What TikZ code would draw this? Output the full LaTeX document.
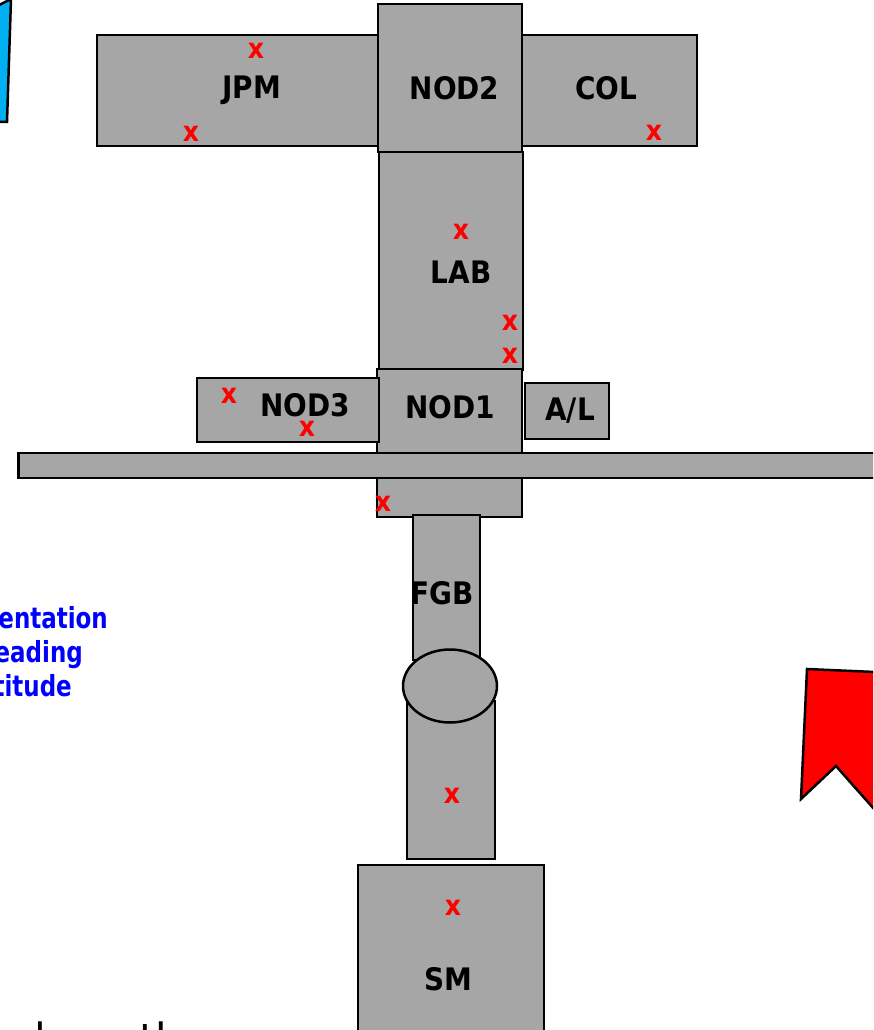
\documentclass[tikz,border=0pt]{standalone}
\usepackage{fontspec}
\setmainfont{DejaVu Sans Condensed}
\usetikzlibrary{shapes.geometric}
\definecolor{modgray}{RGB}{166,166,166}
\definecolor{markred}{RGB}{255,0,0}
\definecolor{noteblue}{RGB}{0,0,255}
\definecolor{arrowcyan}{RGB}{0,176,240}
\newcommand{\narrow}[1]{\scalebox{0.88}[1]{#1}}
\tikzset{
  module/.style={draw=black, line width=2.5pt, fill=modgray, inner sep=0pt, rectangle},
  modlabel/.style={font=\bfseries\fontsize{31}{37}\selectfont, inner sep=0pt},
  xmark/.style={font=\bfseries\fontsize{28}{32}\selectfont, text=markred, inner sep=0pt},
  note/.style={font=\bfseries\fontsize{29}{35}\selectfont, text=noteblue, inner sep=0pt, anchor=base east},
  banner/.style={draw=black, line width=2.5pt, line join=miter},
}
\begin{document}
\begin{tikzpicture}[x=1pt, y=-1pt]
\useasboundingbox (0,0) rectangle (873,1030);
\clip (0,0) rectangle (873,1030);

% side arrows, cut by the frame
\filldraw[banner, fill=arrowcyan] (-40,25) -- (11,-1) -- (7,122) -- (-40,122) -- cycle;
\filldraw[banner, fill=markred] (807,669) -- (920,674) -- (920,861) -- (836,766) -- (801,799) -- cycle;

% modules
\node[module, minimum width=281pt, minimum height=111pt] (jpm) at (237.5,90.5) {};
\node[module, minimum width=175pt, minimum height=111pt] (col) at (609.5,90.5) {};
\node[module, minimum width=144pt, minimum height=218pt] (lab) at (451,261) {};
\node[module, minimum width=144pt, minimum height=148pt] (nod2) at (450,78) {};
\node[module, minimum width=145pt, minimum height=148pt] (nod1) at (449.5,443) {};
\node[module, minimum width=182pt, minimum height=64pt] (nod3) at (288,410) {};
\node[module, minimum width=84pt, minimum height=56pt] (al) at (567,411) {};
\node[module, minimum width=900pt, minimum height=25pt, anchor=west] (truss) at (17,465.5) {};
\node[module, minimum width=67pt, minimum height=145pt] (fgb) at (446.5,587.5) {};
\node[module, minimum width=88pt, minimum height=158pt] (sm-neck) at (451,780) {};
\node[module, ellipse, minimum width=94pt, minimum height=73pt] (ring) at (450,686) {};
\node[module, minimum width=186pt, minimum height=195pt] (sm) at (451,962.5) {};

% module names
\node[modlabel] (t-jpm) at (251.5,90) {JPM};
\node[modlabel] (t-nod2) at (454.5,88) {NOD2};
\node[modlabel] (t-col) at (606.5,88) {COL};
\node[modlabel] (t-lab) at (461,272) {LAB};
\node[modlabel] (t-nod3) at (305,405) {NOD3};
\node[modlabel] (t-nod1) at (450,407) {NOD1};
\node[modlabel] (t-al) at (570,410.5) {A/L};
\node[modlabel] (t-fgb) at (442,593) {FGB};
\node[modlabel] (t-sm) at (448,979) {SM};

% marks
\node[xmark] (x1) at (256,50.5) {x};
\node[xmark] (x2) at (191,133.5) {x};
\node[xmark] (x3) at (654,132.5) {x};
\node[xmark] (x4) at (461,232) {x};
\node[xmark] (x5) at (510,323) {x};
\node[xmark] (x6) at (510,356) {x};
\node[xmark] (x7) at (229,396) {x};
\node[xmark] (x8) at (307,429) {x};
\node[xmark] (x9) at (383,504) {x};
\node[xmark] (x10) at (452,796) {x};
\node[xmark] (x11) at (453,908) {x};

% notes running off the frame
\node[note] (n1) at (108,628) {\narrow{Orientation}};
\node[note] (n2) at (83,662) {\narrow{Heading}};
\node[note] (n3) at (72,696) {\narrow{Attitude}};
\node[font=\fontsize{47}{55}\selectfont, inner sep=0pt, anchor=base west] (foot) at (8.5,1057) {along the};
\end{tikzpicture}
\end{document}
